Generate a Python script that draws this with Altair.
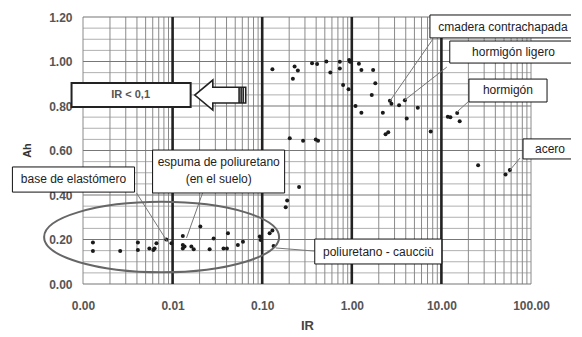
import altair as alt
import pandas as pd

# ---------------- data ----------------
ir = [0.00129, 0.00129, 0.0026, 0.0041, 0.0041, 0.0055, 0.0061, 0.0066, 0.0063, 0.0085, 0.0097,
      0.013, 0.013, 0.013, 0.0136, 0.0162, 0.0172, 0.0204, 0.0259, 0.0287, 0.037, 0.0404, 0.0415,
      0.0535, 0.061, 0.094, 0.096, 0.121, 0.13, 0.134,
      0.183, 0.19, 0.258, 0.203, 0.286, 0.396, 0.42,
      0.13, 0.23, 0.25, 0.22, 0.36, 0.41, 0.52, 0.576, 0.735, 0.735, 0.935, 0.97, 0.95, 1.2, 1.28,
      1.73, 1.83, 0.8, 0.92, 1.67, 1.1, 1.28,
      2.22, 2.66, 2.77, 3.37, 3.91, 4.1, 5.45, 2.38, 2.55, 7.6, 11.8, 12.6, 15.0, 16.0, 25.7, 52.0, 58.0]
ah = [0.187, 0.148, 0.148, 0.187, 0.153, 0.16, 0.153, 0.183, 0.16, 0.2, 0.183,
      0.216, 0.175, 0.16, 0.168, 0.168, 0.156, 0.258, 0.156, 0.205, 0.16, 0.16, 0.228,
      0.175, 0.19, 0.213, 0.198, 0.228, 0.24, 0.171,
      0.345, 0.375, 0.436, 0.655, 0.644, 0.65, 0.644,
      0.965, 0.977, 0.959, 0.922, 0.992, 0.989, 1.0, 0.951, 0.999, 0.969, 1.007, 0.999, 1.0, 0.99, 0.962,
      0.962, 0.902, 0.894, 0.875, 0.849, 0.8, 0.77,
      0.77, 0.824, 0.81, 0.803, 0.826, 0.744, 0.792, 0.673, 0.682, 0.685, 0.752, 0.75, 0.768, 0.731,
      0.534, 0.492, 0.512]

x_tick_values = [0.001, 0.01, 0.1, 1, 10, 100]
y_tick_values = [0.0, 0.2, 0.4, 0.6, 0.8, 1.0, 1.2]
decade_lines = [0.01, 0.1, 1, 10]
edge_lines = [0.001, 100]
minor_x = [m * 10 ** e for e in range(-3, 2) for m in range(2, 10)]
grid_y_major = [0.0, 0.2, 0.4, 0.6, 0.8, 1.0, 1.2]
grid_y_minor = [0.05, 0.1, 0.15, 0.25, 0.3, 0.35, 0.45, 0.5, 0.55, 0.65, 0.7, 0.75,
                0.85, 0.9, 0.95, 1.05, 1.1, 1.15]

# annotation labels (box corners / label anchors / pointer lines in data units)
box_text = ["cmadera contrachapada", "hormigón ligero", "hormigón", "acero",
            "poliuretano - caucciù", "base de elastómero"]
box_x1 = [7.45, 12.4, 20.3, 81.5, 0.386, 0.000163]
box_x2 = [318, 326, 151, 326, 10.1, 0.00376]
box_y1 = [1.209, 1.092, 0.921, 0.652, 0.202, 0.526]
box_y2 = [1.106, 0.993, 0.818, 0.562, 0.090, 0.413]
box_tx = [48.6, 63.7, 55.3, 163, 1.98, 0.000783]
box_ty = [1.157, 1.043, 0.870, 0.607, 0.146, 0.470]

ptr_x1 = [8.04, 11.5, 19.8, 75.4, 0.382, 0.00396, 0.0216]
ptr_y1 = [1.101, 0.975, 0.818, 0.566, 0.148, 0.409, 0.409]
ptr_x2 = [2.66, 3.91, 14.9, 58.2, 0.1416, 0.00879, 0.0143]
ptr_y2 = [0.822, 0.827, 0.773, 0.512, 0.162, 0.189, 0.207]

foam_text = ["espuma de poliuretano", "(en el suelo)"]
foam_box = [0.00598, 0.178, 0.602, 0.409]
foam_tx = 0.0327
foam_ty = [0.548, 0.472]

ir_box = [0.000745, 0.0159, 0.903, 0.796]
ir_label = "IR < 0,1"
ir_label_pos = [0.0034, 0.849]
arrow_pos = [0.034, 0.849]
ellipse_pos = [0.00754, 0.211]

# ---------------- scales / axes ----------------
xs = alt.Scale(type="log", domain=[0.001, 100], nice=False)
ys = alt.Scale(domain=[0, 1.2], nice=False, zero=False)
FONT = "Liberation Sans"

x_axis = alt.Axis(values=x_tick_values, format=".2f", title="IR", grid=False, ticks=False,
                  domain=False, labelFont=FONT, labelFontSize=12, labelColor="#555",
                  labelFontWeight="bold", labelPadding=16, labelFlush=False,
                  titleFont=FONT, titleFontSize=13, titleFontWeight="bold", titleColor="#444",
                  titleY=41, titleBaseline="middle")
y_axis = alt.Axis(values=y_tick_values, format=".2f", title="Ah", grid=False, ticks=False,
                  domain=False, labelFont=FONT, labelFontSize=12, labelColor="#555",
                  labelFontWeight="bold", labelPadding=11,
                  titleFont=FONT, titleFontSize=11, titleFontWeight="bold", titleColor="#333",
                  titleX=-56, titleY=133, titleAngle=-90, titleAlign="center",
                  titleBaseline="middle")


def X(field):
    return alt.X(field, scale=xs, axis=x_axis)


def Y(field):
    return alt.Y(field, scale=ys, axis=y_axis)


# ---------------- grid ----------------
def vrules(vals, color, width):
    df = pd.DataFrame({"gx": vals, "gy0": [0.0] * len(vals), "gy1": [1.2] * len(vals)})
    return alt.Chart(df).mark_rule(color=color, strokeWidth=width).encode(
        x=X("gx:Q"), y=Y("gy0:Q"), y2="gy1:Q")


def hrules(vals, color, width):
    df = pd.DataFrame({"gy": vals, "gx0": [0.001] * len(vals), "gx1": [100.0] * len(vals)})
    return alt.Chart(df).mark_rule(color=color, strokeWidth=width).encode(
        y=Y("gy:Q"), x=X("gx0:Q"), x2="gx1:Q")


grid = [
    hrules(grid_y_minor, "#b0b0b0", 1),
    vrules(minor_x, "#8a8a8a", 1),
    vrules(edge_lines, "#8a8a8a", 1),
    hrules(grid_y_major, "#777777", 1.2),
    vrules(decade_lines, "#222222", 2.6),
]

# ---------------- data points ----------------
pts = alt.Chart(pd.DataFrame({"IR": ir, "Ah": ah})).mark_circle(
    size=16, color="#1a1a1a", opacity=1).encode(x=X("IR:Q"), y=Y("Ah:Q"))

# ---------------- annotations ----------------
ptr = alt.Chart(pd.DataFrame({"x1": ptr_x1, "y1": ptr_y1, "x2": ptr_x2, "y2": ptr_y2})).mark_rule(
    color="#777777", strokeWidth=1).encode(x=X("x1:Q"), y=Y("y1:Q"), x2="x2:Q", y2="y2:Q")

ellipse_path = ("M -1 0 C -1 -0.166 -0.552 -0.3 0 -0.3 C 0.552 -0.3 1 -0.166 1 0 "
                "C 1 0.166 0.552 0.3 0 0.3 C -0.552 0.3 -1 0.166 -1 0 Z")
ellipse = alt.Chart(pd.DataFrame({"ex": [ellipse_pos[0]], "ey": [ellipse_pos[1]]})).mark_point(
    shape=ellipse_path, filled=False, stroke="#666666", strokeWidth=2, size=55225, opacity=1).encode(
    x=X("ex:Q"), y=Y("ey:Q"))

boxes_df = pd.DataFrame({"bx1": box_x1 + [foam_box[0]], "bx2": box_x2 + [foam_box[1]],
                         "by1": box_y1 + [foam_box[2]], "by2": box_y2 + [foam_box[3]]})
boxes = alt.Chart(boxes_df).mark_rect(fill="white", stroke="#111111", strokeWidth=1).encode(
    x=X("bx1:Q"), x2="bx2:Q", y=Y("by1:Q"), y2="by2:Q")

labels_df = pd.DataFrame({"t": box_text + foam_text,
                          "tx": box_tx + [foam_tx, foam_tx],
                          "ty": box_ty + foam_ty})
labels = alt.Chart(labels_df).mark_text(font=FONT, fontSize=12, color="#222222",
                                        align="center", baseline="middle").encode(
    x=X("tx:Q"), y=Y("ty:Q"), text="t:N")

irbox = alt.Chart(pd.DataFrame({"bx1": [ir_box[0]], "bx2": [ir_box[1]],
                                "by1": [ir_box[2]], "by2": [ir_box[3]]})).mark_rect(
    fill="white", stroke="#222222", strokeWidth=2).encode(
    x=X("bx1:Q"), x2="bx2:Q", y=Y("by1:Q"), y2="by2:Q")
irtext = alt.Chart(pd.DataFrame({"t": [ir_label], "tx": [ir_label_pos[0]],
                                 "ty": [ir_label_pos[1]]})).mark_text(
    font=FONT, fontSize=11, fontWeight="bold", color="#555555",
    align="center", baseline="middle").encode(x=X("tx:Q"), y=Y("ty:Q"), text="t:N")

arrow_path = ("M -1 0 L -0.29 -0.59 L -0.29 -0.31 L 1 -0.31 L 1 0.31 L -0.29 0.31 "
              "L -0.29 0.59 Z M 0.74 -0.31 L 0.74 0.31 M 0.82 -0.31 L 0.82 0.31 "
              "M 0.9 -0.31 L 0.9 0.31")
arrow = alt.Chart(pd.DataFrame({"ax": [arrow_pos[0]], "ay": [arrow_pos[1]]})).mark_point(
    shape=arrow_path, filled=True, fill="white", stroke="#222222", strokeWidth=1.6,
    size=2601, opacity=1, fillOpacity=1).encode(x=X("ax:Q"), y=Y("ay:Q"))

chart = alt.layer(*grid, pts, ptr, ellipse, boxes, labels, irbox, irtext, arrow).properties(
    width=448, height=267,
    autosize=alt.AutoSizeParams(type="none"),
    padding={"left": 75, "top": 9, "right": 40, "bottom": 52},
    background="white",
).configure_view(stroke=None)

chart.save("out.html", embed_options={"renderer": "svg", "actions": False})
